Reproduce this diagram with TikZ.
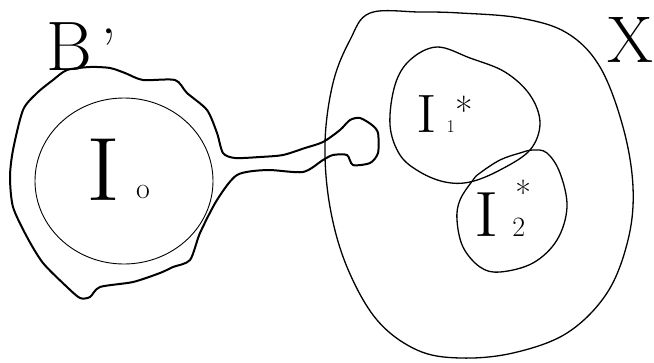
\documentclass[tikz,border=0pt]{standalone}
\usepackage{tikz}
\usetikzlibrary{positioning,calc}

\newcommand{\wideI}[1]{\scalebox{#1}[1]{I}}

\begin{document}
\begin{tikzpicture}[
  x=1pt, y=-1pt,
  blob/.style={line width=2pt, line join=round},
  region/.style={line width=1.3pt},
  thin region/.style={line width=0.9pt},
  hand/.style={inner sep=0pt, anchor=base west}
]
  \useasboundingbox (0,0) rectangle (654,362);
  % Neighbourhood B' with its neck into X
  \draw[blob] plot[smooth cycle, tension=0.45] coordinates {
    (67,70) (90,67) (110,68) (125,73) (143,80) (175,80) (187,93) (207,110)
    (217,133) (223,153) (235,158) (260,157) (283,155) (305,148) (323,142)
    (340,130) (350,120) (360,118) (372,125) (378,133) (378,153) (370,163)
    (353,165) (347,155) (333,155) (323,160) (303,172) (267,170) (237,175)
    (217,200) (200,233) (190,260) (173,267) (160,273) (133,282) (100,287)
    (90,297) (80,298) (67,287) (43,263) (27,237) (13,207) (10,177) (13,150)
    (23,110) (37,93) (53,80)};
  % Inner set I_o
  \draw[thin region] (124,181) ellipse [x radius=89, y radius=83];
  % Space X
  \draw[region] plot[smooth cycle, tension=0.6] coordinates {
    (370,13) (420,12) (460,13) (520,18) (567,33) (600,67) (623,127)
    (633,187) (628,240) (607,293) (567,333) (513,353) (460,358) (417,350)
    (377,320) (347,267) (330,207) (325,143) (333,83) (350,40)};
  % I_1^*
  \draw[region] plot[smooth cycle, tension=0.6] coordinates {
    (437,47) (470,58) (505,72) (530,95) (540,123) (530,150) (500,170)
    (470,182) (445,182) (420,172) (400,155) (390,125) (395,85) (410,60)};
  % I_2^*
  \draw[region] plot[smooth cycle, tension=0.6] coordinates {
    (473,180) (460,200) (457,220) (463,247) (480,267) (500,272) (533,263)
    (557,240) (567,207) (560,173) (547,153) (533,150) (520,153) (500,160)
    (480,173)};
  % Labels
  \node[hand, font=\fontsize{70}{70}\selectfont] (lblB) at (46,70)
    {B\hspace{10pt}{\fontsize{60}{60}\selectfont '}};
  \node[font=\fontsize{66}{66}\selectfont, inner sep=0pt] (lblX) at (630,40) {X};
  \node[hand, font=\fontsize{90}{90}\selectfont] (lblIo) at (86,200)
    {\wideI{1.15}\hspace{16pt}\raisebox{2pt}{\fontsize{30}{30}\selectfont o}};
  \node[hand, font=\fontsize{54}{54}\selectfont] (lblIa) at (416,132)
    {\wideI{1.15}\hspace{10pt}{\fontsize{18}{18}\selectfont 1}\hspace{1pt}\raisebox{8pt}{\fontsize{38}{38}\selectfont *}};
  \node[hand, font=\fontsize{64}{64}\selectfont] (lblIb) at (474,236)
    {\wideI{1.15}\hspace{14pt}\rlap{\hspace{3pt}\raisebox{31pt}{\fontsize{34}{34}\selectfont *}}{\fontsize{28}{28}\selectfont 2}};
\end{tikzpicture}
\end{document}
